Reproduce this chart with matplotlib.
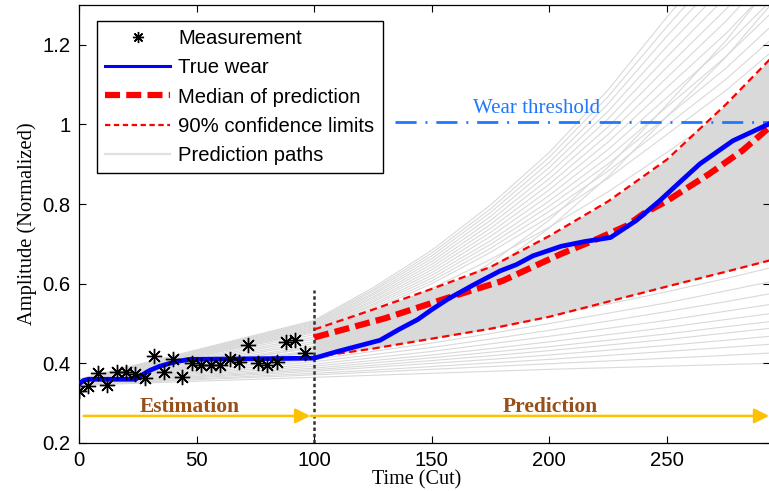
import matplotlib
matplotlib.use("Agg")
import matplotlib.pyplot as plt
from matplotlib.ticker import FuncFormatter

# measured amplitude, one point every 4 cuts
t_meas = [0, 4, 8, 12, 16, 20, 24, 28, 32, 36, 40, 44, 48, 52, 56, 60, 64, 68, 72, 76, 80, 84, 88, 92, 96]
y_meas = [0.331, 0.343, 0.376, 0.345, 0.379, 0.379, 0.373, 0.362, 0.418, 0.379, 0.410, 0.366, 0.401,
          0.395, 0.395, 0.395, 0.412, 0.404, 0.447, 0.401, 0.395, 0.404, 0.454, 0.458, 0.427]

# true wear curve
t_true = [0, 2, 4, 24, 26, 30, 34, 38, 42, 47, 100, 110, 128, 136, 144, 150, 157, 168, 179, 186,
          193, 205, 215, 226, 237, 247, 256, 264, 278, 294]
y_true = [0.348, 0.357, 0.360, 0.360, 0.368, 0.382, 0.392, 0.399, 0.405, 0.410, 0.413, 0.430, 0.458,
          0.485, 0.510, 0.535, 0.562, 0.598, 0.632, 0.648, 0.670, 0.694, 0.706, 0.716, 0.759, 0.809,
          0.858, 0.901, 0.959, 1.003]

# median of the predicted paths
t_med = [100, 130, 156, 180, 205, 219, 233, 240, 250, 268, 282, 294]
y_med = [0.465, 0.513, 0.563, 0.607, 0.675, 0.709, 0.746, 0.776, 0.808, 0.876, 0.934, 0.995]

# 90% confidence limits
t_ci = [100, 125, 150, 175, 200, 225, 250, 275, 294]
y_upper = [0.485, 0.535, 0.587, 0.642, 0.720, 0.807, 0.912, 1.050, 1.165]
y_lower = [0.416, 0.437, 0.462, 0.487, 0.517, 0.555, 0.593, 0.630, 0.659]

# prediction paths, sampled at t_path
t_path = [0, 50, 100, 125, 150, 175, 200, 225, 250, 275, 294]
paths = [
    [0.345, 0.355, 0.365, 0.370, 0.375, 0.380, 0.385, 0.389, 0.393, 0.397, 0.400],
    [0.346, 0.359, 0.371, 0.378, 0.385, 0.392, 0.399, 0.406, 0.413, 0.420, 0.426],
    [0.347, 0.361, 0.375, 0.383, 0.392, 0.401, 0.410, 0.420, 0.430, 0.440, 0.448],
    [0.348, 0.364, 0.380, 0.390, 0.400, 0.410, 0.421, 0.433, 0.445, 0.458, 0.468],
    [0.348, 0.366, 0.384, 0.395, 0.407, 0.419, 0.432, 0.446, 0.460, 0.476, 0.488],
    [0.349, 0.368, 0.388, 0.401, 0.414, 0.428, 0.442, 0.458, 0.474, 0.492, 0.505],
    [0.349, 0.371, 0.393, 0.407, 0.421, 0.437, 0.454, 0.472, 0.490, 0.510, 0.525],
    [0.350, 0.374, 0.398, 0.414, 0.430, 0.449, 0.468, 0.488, 0.508, 0.531, 0.548],
    [0.350, 0.377, 0.404, 0.422, 0.440, 0.461, 0.483, 0.506, 0.530, 0.555, 0.575],
    [0.351, 0.380, 0.410, 0.430, 0.451, 0.475, 0.500, 0.526, 0.552, 0.582, 0.605],
    [0.351, 0.383, 0.415, 0.438, 0.463, 0.491, 0.520, 0.549, 0.580, 0.613, 0.640],
    [0.352, 0.387, 0.422, 0.448, 0.476, 0.507, 0.540, 0.574, 0.610, 0.649, 0.680],
    [0.352, 0.390, 0.428, 0.457, 0.488, 0.523, 0.560, 0.599, 0.640, 0.685, 0.722],
    [0.353, 0.393, 0.433, 0.465, 0.500, 0.538, 0.580, 0.624, 0.672, 0.723, 0.765],
    [0.353, 0.396, 0.439, 0.475, 0.513, 0.556, 0.602, 0.651, 0.705, 0.762, 0.810],
    [0.354, 0.399, 0.444, 0.483, 0.526, 0.573, 0.625, 0.680, 0.740, 0.804, 0.858],
    [0.354, 0.402, 0.450, 0.492, 0.538, 0.590, 0.648, 0.709, 0.775, 0.846, 0.905],
    [0.355, 0.405, 0.455, 0.500, 0.550, 0.607, 0.670, 0.738, 0.812, 0.889, 0.955],
    [0.355, 0.408, 0.461, 0.509, 0.563, 0.625, 0.694, 0.768, 0.850, 0.937, 1.010],
    [0.356, 0.411, 0.466, 0.518, 0.576, 0.643, 0.718, 0.799, 0.890, 0.984, 1.065],
    [0.356, 0.414, 0.472, 0.527, 0.588, 0.661, 0.742, 0.831, 0.930, 1.032, 1.120],
    [0.357, 0.417, 0.477, 0.535, 0.600, 0.679, 0.768, 0.865, 0.975, 1.085, 1.180],
    [0.357, 0.420, 0.483, 0.545, 0.614, 0.699, 0.795, 0.901, 1.020, 1.141, 1.245],
    [0.358, 0.423, 0.488, 0.554, 0.628, 0.719, 0.822, 0.937, 1.068, 1.198, 1.310],
    [0.358, 0.426, 0.493, 0.563, 0.642, 0.739, 0.850, 0.975, 1.118, 1.259, 1.380],
    [0.359, 0.429, 0.498, 0.572, 0.656, 0.759, 0.878, 1.014, 1.170, 1.320, 1.450],
    [0.359, 0.431, 0.503, 0.581, 0.670, 0.779, 0.905, 1.052, 1.222, 1.381, 1.520],
    [0.360, 0.434, 0.508, 0.590, 0.684, 0.798, 0.930, 1.087, 1.270, 1.442, 1.590],
    [0.357, 0.418, 0.480, 0.540, 0.607, 0.689, 0.782, 0.883, 0.998, 1.113, 1.212],
    [0.358, 0.421, 0.485, 0.549, 0.621, 0.708, 0.808, 0.918, 1.044, 1.170, 1.278],
    [0.358, 0.424, 0.490, 0.558, 0.635, 0.729, 0.836, 0.956, 1.093, 1.228, 1.345],
    [0.359, 0.427, 0.495, 0.567, 0.649, 0.749, 0.864, 0.994, 1.144, 1.289, 1.415],
    [0.359, 0.430, 0.500, 0.576, 0.663, 0.769, 0.892, 1.033, 1.196, 1.350, 1.485],
    [0.360, 0.432, 0.505, 0.585, 0.677, 0.788, 0.918, 1.070, 1.246, 1.411, 1.555],
    [0.352, 0.395, 0.440, 0.496, 0.560, 0.652, 0.760, 0.893, 1.050, 1.210, 1.350],
    [0.350, 0.390, 0.430, 0.484, 0.545, 0.635, 0.740, 0.869, 1.020, 1.169, 1.300],
]

threshold = 1.005
t_threshold = [134.4, 294]
t_now = 100

gray = '#d9d9d9'
gold = '#ffc000'
brown = '#97501a'
tblue = '#1e78ff'
sans = 'Liberation Sans'
serif = 'Liberation Serif'

fig = plt.figure(figsize=(7.69, 4.91), dpi=100)
ax = fig.add_axes([0.1027, 0.0978, 0.8992, 0.892])

# paths first so everything else sits on top
ax.fill_between(t_ci, y_lower, y_upper, color=gray, lw=0, zorder=1)
for p in paths:
    ax.plot(t_path, p, color=gray, lw=0.8, zorder=1)

ax.plot([t_now, t_now], [0.2, 0.585], color='#333333', lw=1.8, ls=(0, (1.4, 1.1)), zorder=2)
ax.plot(t_threshold, [threshold, threshold], color=tblue, lw=2, ls=(0, (7.6, 3.2, 0.7, 3.2)), zorder=2)
ax.text(194.6, 1.030, 'Wear threshold', color=tblue, fontsize=15, family=serif,
        ha='center', va='baseline')

# estimation / prediction arrows
arrow = dict(arrowstyle='-|>', color=gold, lw=1.8, mutation_scale=22, shrinkA=0, shrinkB=0)
ax.annotate('', xy=(98.3, 0.268), xytext=(2, 0.268), arrowprops=arrow, zorder=3)
ax.annotate('', xy=(293.4, 0.268), xytext=(98.5, 0.268), arrowprops=arrow, zorder=3)
ax.text(47.2, 0.278, 'Estimation', color=brown, fontsize=15.5, family=serif, weight='bold',
        ha='center', va='baseline')
ax.text(200.3, 0.278, 'Prediction', color=brown, fontsize=15.5, family=serif, weight='bold',
        ha='center', va='baseline')

ax.plot(t_ci, y_upper, color='red', lw=1.6, ls=(0, (3.3, 2.0)), zorder=4)
ax.plot(t_ci, y_lower, color='red', lw=1.6, ls=(0, (3.3, 2.0)), zorder=4)
ax.plot(t_med, y_med, color='red', lw=4.5, ls=(0, (2.4, 1.0)), zorder=4)
ax.plot(t_true, y_true, color='blue', lw=3.4, zorder=5)
ax.plot(t_meas, y_meas, ls='none', marker=(8, 2, 0), ms=11, mew=1.0, color='black', zorder=6)

# legend entries
h_meas, = ax.plot([], [], ls='none', marker=(8, 2, 0), ms=8, mew=1.0, color='black')
h_true, = ax.plot([], [], color='blue', lw=2.2)
h_med, = ax.plot([], [], color='red', lw=4.5, ls=(0, (2.4, 1.0)))
h_ci, = ax.plot([], [], color='red', lw=1.6, ls=(0, (2.4, 1.6)))
h_path, = ax.plot([], [], color='#e0e0e0', lw=1.6)
leg = ax.legend([h_meas, h_true, h_med, h_ci, h_path],
                ['Measurement', 'True wear', 'Median of prediction', '90% confidence limits', 'Prediction paths'],
                loc='upper left', bbox_to_anchor=(0.026, 0.964), borderaxespad=0,
                prop={'family': sans, 'size': 14.6}, frameon=True, fancybox=False,
                edgecolor='black', framealpha=1, handlelength=3.2, handletextpad=0.4,
                labelspacing=0.5, borderpad=0.42)
leg.get_frame().set_linewidth(1.0)
leg.set_zorder(10)

ax.set_xlim(0, 294)
ax.set_ylim(0.2, 1.3)
ax.set_xticks([0, 50, 100, 150, 200, 250])
ax.set_yticks([0.2, 0.4, 0.6, 0.8, 1.0, 1.2])
ax.yaxis.set_major_formatter(FuncFormatter(lambda v, pos: '%g' % v))
ax.tick_params(direction='in', length=5, width=0.8, top=True, right=True, labelsize=14.6, pad=6)
for lab in ax.get_xticklabels() + ax.get_yticklabels():
    lab.set_family(sans)
for s in ax.spines.values():
    s.set_linewidth(0.9)

ax.set_xlabel('Time (Cut)', family=serif, fontsize=14.5, labelpad=0)
ax.xaxis.set_label_coords(0.488, -0.062)
ax.set_ylabel('Amplitude (Normalized)', family=serif, fontsize=14.8, labelpad=4)

fig.savefig('out.png', dpi=100)
